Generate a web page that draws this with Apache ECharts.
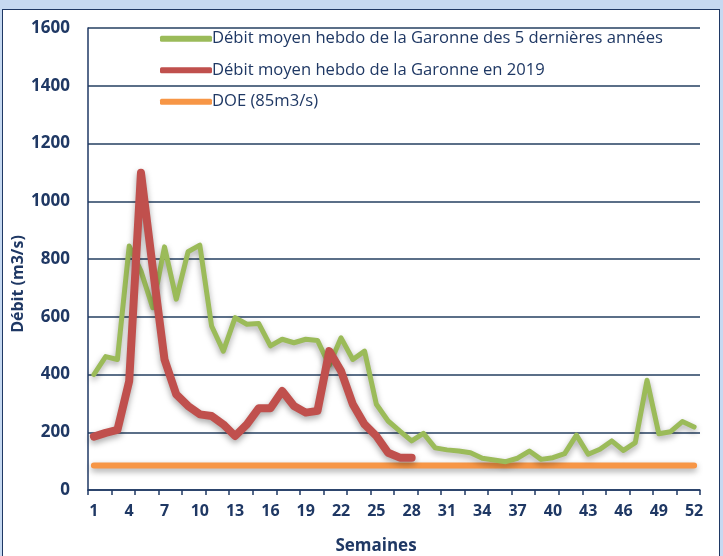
<!DOCTYPE html>
<html>
<head>
<meta charset="utf-8">
<script src="https://cdn.jsdelivr.net/npm/echarts@6/dist/echarts.min.js"></script>
<style>
  html, body { margin: 0; padding: 0; background: #c6d9f1; }
  #frame { position: absolute; left: 2px; top: 9px; width: 716px; height: 560px; background: #ffffff; border: 1.5px solid #1f3864; }
  #chart { position: absolute; left: 0; top: 0; width: 723px; height: 556px; }
</style>
</head>
<body>
<div id="frame"></div>
<div id="chart"></div>
<script>
const weeks = ['1','2','3','4','5','6','7','8','9','10','11','12','13','14','15','16','17','18','19','20','21','22','23','24','25','26','27','28','29','30','31','32','33','34','35','36','37','38','39','40','41','42','43','44','45','46','47','48','49','50','51','52'];

const green5ans = [400,462,452,845,758,631,842,661,825,848,
                   568,481,597,574,577,499,522,510,522,518,
                   432,527,452,481,297,239,204,170,196,146,
                   139,135,129,110,104,98,110,135,106,112,
                   126,190,124,141,170,137,164,380,195,202,
                   237,218];

const red2019 = [185,198,208,377,1099,770,452,331,291,262,
                 256,227,187,227,283,283,343,291,268,274,
                 481,412,297,227,187,129,112,112];

const doe = [85,85,85,85,85,85,85,85,85,85,
             85,85,85,85,85,85,85,85,85,85,
             85,85,85,85,85,85,85,85,85,85,
             85,85,85,85,85,85,85,85,85,85,
             85,85,85,85,85,85,85,85,85,85,
             85,85];

const yTicks = [0, 200, 400, 600, 800, 1000, 1200, 1400, 1600];

const names = ['Débit moyen hebdo de la Garonne des 5 dernières années', 'Débit moyen hebdo de la Garonne en 2019', 'DOE (85m3/s)'];
const navy = '#1f3864';

const chart = echarts.init(document.getElementById('chart'), null, { renderer: 'canvas' });
chart.setOption({
  backgroundColor: 'transparent',
  animation: false,
  textStyle: { fontFamily: 'Open Sans' },
  grid: { left: 88, right: 23, top: 28, bottom: 66, containLabel: false },
  legend: {
    orient: 'vertical',
    left: 155,
    top: 24,
    itemWidth: 52,
    itemHeight: 6,
    itemGap: 12,
    icon: 'roundRect',
    data: names,
    textStyle: { color: navy, fontSize: 16.6, fontFamily: 'Open Sans', lineHeight: 19.5, padding: [0, 0, 0, -5] }
  },
  xAxis: {
    type: 'category',
    data: weeks,
    boundaryGap: true,
    axisLine: { show: true, lineStyle: { color: navy, width: 1.5 } },
    axisTick: { show: true, interval: 1, length: 5, lineStyle: { color: navy, width: 1.5 } },
    axisLabel: { interval: 2, color: navy, fontWeight: 'bold', fontSize: 16, margin: 13, fontFamily: 'Open Sans' },
    splitLine: { show: false }
  },
  yAxis: {
    type: 'value',
    min: yTicks[0],
    max: yTicks[yTicks.length - 1],
    interval: 200,
    axisLine: { show: true, lineStyle: { color: navy, width: 1.5 } },
    axisTick: { show: false },
    axisLabel: { color: navy, fontWeight: 'bold', fontSize: 17, margin: 18, fontFamily: 'Open Sans',
      formatter: function (v) { return String(v); } },
    splitLine: { show: true, lineStyle: { color: '#243f60', width: 1.5 } }
  },
  graphic: [
    { type: 'text', x: 18, y: 284, rotation: Math.PI / 2,
      style: { text: 'Débit (m3/s)', fill: navy, font: 'bold 16px "Open Sans"', align: 'center', verticalAlign: 'middle' } },
    { type: 'text', x: 376, y: 546,
      style: { text: 'Semaines', fill: navy, font: 'bold 17px "Open Sans"', align: 'center', verticalAlign: 'middle' } }
  ],
  series: [
    {
      name: names[0], type: 'line', data: green5ans, z: 3,
      showSymbol: false, symbol: 'none',
      itemStyle: { color: '#9bbb59' },
      lineStyle: { color: '#9bbb59', width: 5, join: 'round', cap: 'round',
        shadowColor: 'rgba(0,0,0,0.35)', shadowBlur: 6, shadowOffsetY: 3 }
    },
    {
      name: names[1], type: 'line', data: red2019, z: 4,
      showSymbol: false, symbol: 'none',
      itemStyle: { color: '#c0504d' },
      lineStyle: { color: '#c0504d', width: 8, join: 'round', cap: 'round',
        shadowColor: 'rgba(0,0,0,0.35)', shadowBlur: 6, shadowOffsetY: 3 }
    },
    {
      name: names[2], type: 'line', data: doe, z: 2,
      showSymbol: false, symbol: 'none',
      itemStyle: { color: '#f79646' },
      lineStyle: { color: '#f79646', width: 6, cap: 'round',
        shadowColor: 'rgba(0,0,0,0.35)', shadowBlur: 6, shadowOffsetY: 3 }
    }
  ]
});
</script>
</body>
</html>
